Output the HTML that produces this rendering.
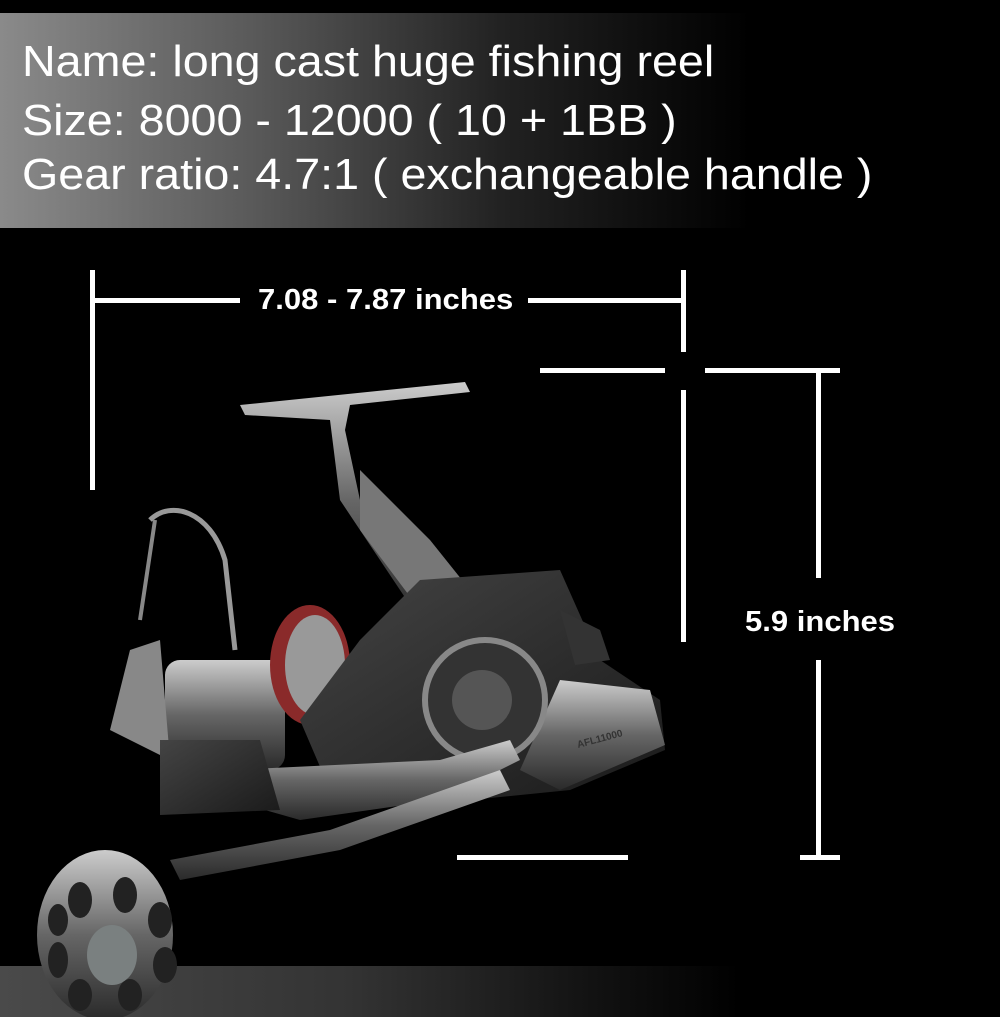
<!DOCTYPE html>
<html><head><style>
body{margin:0;width:1000px;height:1017px;background:#000;position:relative;overflow:hidden;font-family:"Liberation Sans",sans-serif}
.hdr{position:absolute;left:0;top:13px;width:1000px;height:215px;background:linear-gradient(90deg,#8a8a8a 0%,#5a5a5a 25%,#222 50%,#000 75%)}
.ftr{position:absolute;left:0;top:966px;width:1000px;height:51px;background:linear-gradient(90deg,#4a4a4a 0%,#333 35%,#111 60%,#000 74%)}
.t{position:absolute;left:22px;color:#fff;font-size:44px;white-space:nowrap;transform:scaleX(1.06);transform-origin:left}
.l{position:absolute;background:#fff}
.d{position:absolute;color:#fff;font-weight:bold;font-size:29px;white-space:nowrap;transform:scaleX(1.07);transform-origin:left}
</style></head><body>
<div class="hdr"></div><div class="ftr"></div>
<div class="t" style="top:37px">Name: long cast huge fishing reel</div>
<div class="t" style="top:96px">Size: 8000 - 12000 ( 10 + 1BB )</div>
<div class="t" style="top:150px">Gear ratio: 4.7:1 ( exchangeable handle )</div>

<div class="l" style="left:90px;top:270px;width:5px;height:220px"></div>
<div class="l" style="left:90px;top:298px;width:150px;height:5px"></div>
<div class="d" style="left:258px;top:284px">7.08 - 7.87 inches</div>
<div class="l" style="left:528px;top:298px;width:157px;height:5px"></div>
<div class="l" style="left:681px;top:270px;width:5px;height:82px"></div>
<div class="l" style="left:540px;top:368px;width:125px;height:5px"></div>
<div class="l" style="left:705px;top:368px;width:135px;height:5px"></div>
<div class="l" style="left:681px;top:390px;width:5px;height:252px"></div>
<div class="l" style="left:816px;top:370px;width:5px;height:208px"></div>
<div class="d" style="left:745px;top:606px">5.9 inches</div>
<div class="l" style="left:816px;top:660px;width:5px;height:200px"></div>
<div class="l" style="left:800px;top:855px;width:40px;height:5px"></div>
<div class="l" style="left:457px;top:855px;width:171px;height:5px"></div>

<svg style="position:absolute;left:0;top:0" width="1000" height="1017">
<defs>
<linearGradient id="m" x1="0" y1="0" x2="0" y2="1"><stop offset="0" stop-color="#ccc"/><stop offset=".5" stop-color="#666"/><stop offset="1" stop-color="#2a2a2a"/></linearGradient>
<linearGradient id="c" x1="0" y1="0" x2="1" y2="1"><stop offset="0" stop-color="#444"/><stop offset="1" stop-color="#1a1a1a"/></linearGradient>
</defs>
<path d="M240 405 L465 382 L470 392 L350 405 L345 430 L360 500 L430 600 L420 620 L380 560 L340 500 L330 420 L245 415Z" fill="url(#m)"/>
<path d="M360 470 L430 540 L470 590 L420 610 L360 530Z" fill="#777"/>
<path d="M150 520 C170 500 210 510 225 560 L235 650" stroke="#999" stroke-width="5" fill="none"/>
<path d="M155 520 L140 620" stroke="#888" stroke-width="4" fill="none"/>
<rect x="165" y="660" width="120" height="110" rx="15" fill="url(#m)"/>
<ellipse cx="310" cy="665" rx="40" ry="60" fill="#8a2a2a"/>
<ellipse cx="315" cy="665" rx="30" ry="50" fill="#999"/>
<path d="M110 730 L130 650 L160 640 L170 760 Z" fill="#888"/>
<path d="M420 580 L560 570 L600 660 L660 700 L665 750 L570 790 L470 800 L330 790 L300 720 L360 640 Z" fill="url(#c)"/>
<path d="M560 680 L650 690 L665 745 L560 790 L520 770Z" fill="url(#m)"/>
<circle cx="485" cy="700" r="60" fill="#333" stroke="#888" stroke-width="6"/>
<circle cx="482" cy="700" r="30" fill="#555"/>
<path d="M230 770 L440 760 L510 740 L520 760 L440 800 L300 820 L230 800Z" fill="url(#m)"/>
<path d="M160 740 L260 740 L280 810 L160 815Z" fill="url(#c)"/>
<path d="M170 860 L330 830 L500 770 L510 790 L340 850 L180 880Z" fill="url(#m)"/>
<path d="M560 610 L600 630 L610 660 L575 665Z" fill="#333"/>
<text x="578" y="748" font-family="Liberation Sans" font-size="10" font-weight="bold" fill="#333" transform="rotate(-15 578 748)">AFL11000</text>
<ellipse cx="105" cy="935" rx="68" ry="85" fill="url(#m)"/>
<g fill="#222"><ellipse cx="80" cy="900" rx="12" ry="18"/><ellipse cx="125" cy="895" rx="12" ry="18"/><ellipse cx="160" cy="920" rx="12" ry="18"/><ellipse cx="165" cy="965" rx="12" ry="18"/><ellipse cx="130" cy="995" rx="12" ry="16"/><ellipse cx="80" cy="995" rx="12" ry="16"/><ellipse cx="58" cy="960" rx="10" ry="18"/><ellipse cx="58" cy="920" rx="10" ry="16"/></g>
<ellipse cx="112" cy="955" rx="25" ry="30" fill="#7a8080"/>
</svg>
</body></html>
